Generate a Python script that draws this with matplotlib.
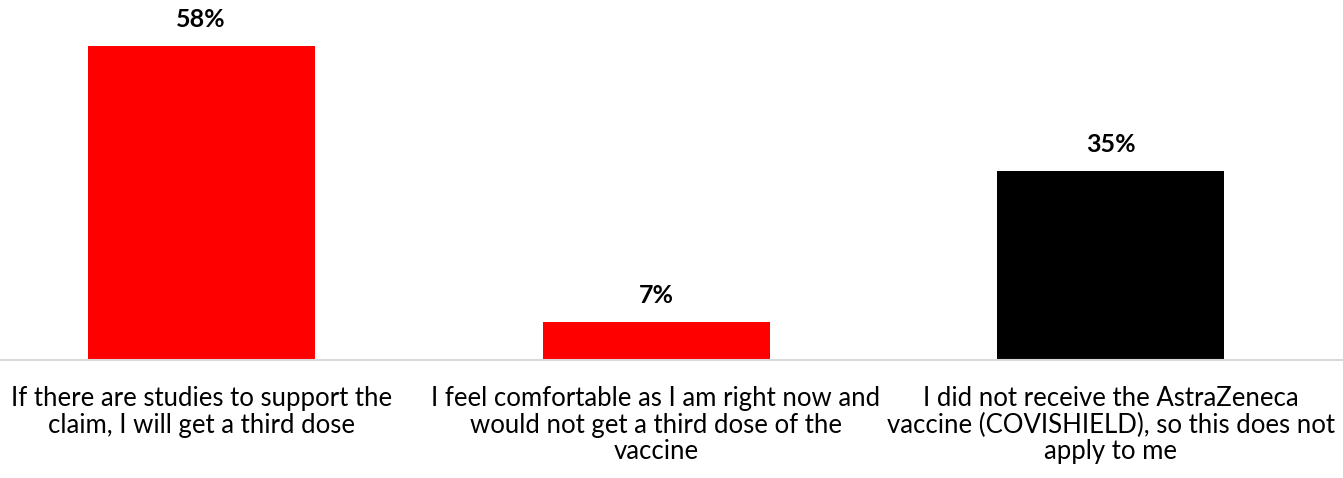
import matplotlib
matplotlib.use('Agg')
import matplotlib.pyplot as plt
import numpy as np

plt.rcParams['font.family'] = ['Lato', 'DejaVu Sans']

categories = ['If there are studies to support the\nclaim, I will get a third dose',
              'I feel comfortable as I am right now and\nwould not get a third dose of the\nvaccine',
              'I did not receive the AstraZeneca\nvaccine (COVISHIELD), so this does not\napply to me']
values = [58, 7, 35]
colors = ['#ff0000', '#ff0000', '#000000']

fig = plt.figure(figsize=(13.43, 4.78), dpi=100)
ax = fig.add_axes([0, 118/478, 1, 360/478])
x = np.arange(len(values))
ax.bar(x, values, width=0.499, color=colors)
ax.set_xlim(-0.442, 2.51)
ax.set_ylim(0, 66.6)

for xi, v in zip(x, values):
    ax.text(xi, v + 2.8, f'{v}%', ha='center', va='bottom', fontsize=18, fontweight='bold')

ax.set_xticks(x)
ax.set_xticklabels(categories, fontsize=18.5, linespacing=1.07)
ax.tick_params(axis='x', length=0, pad=19)
ax.set_yticks([])
for s in ['top', 'right', 'left']:
    ax.spines[s].set_visible(False)
ax.spines['bottom'].set_color('#d9d9d9')
ax.spines['bottom'].set_linewidth(1.5)

fig.savefig('out.png', dpi=100)
